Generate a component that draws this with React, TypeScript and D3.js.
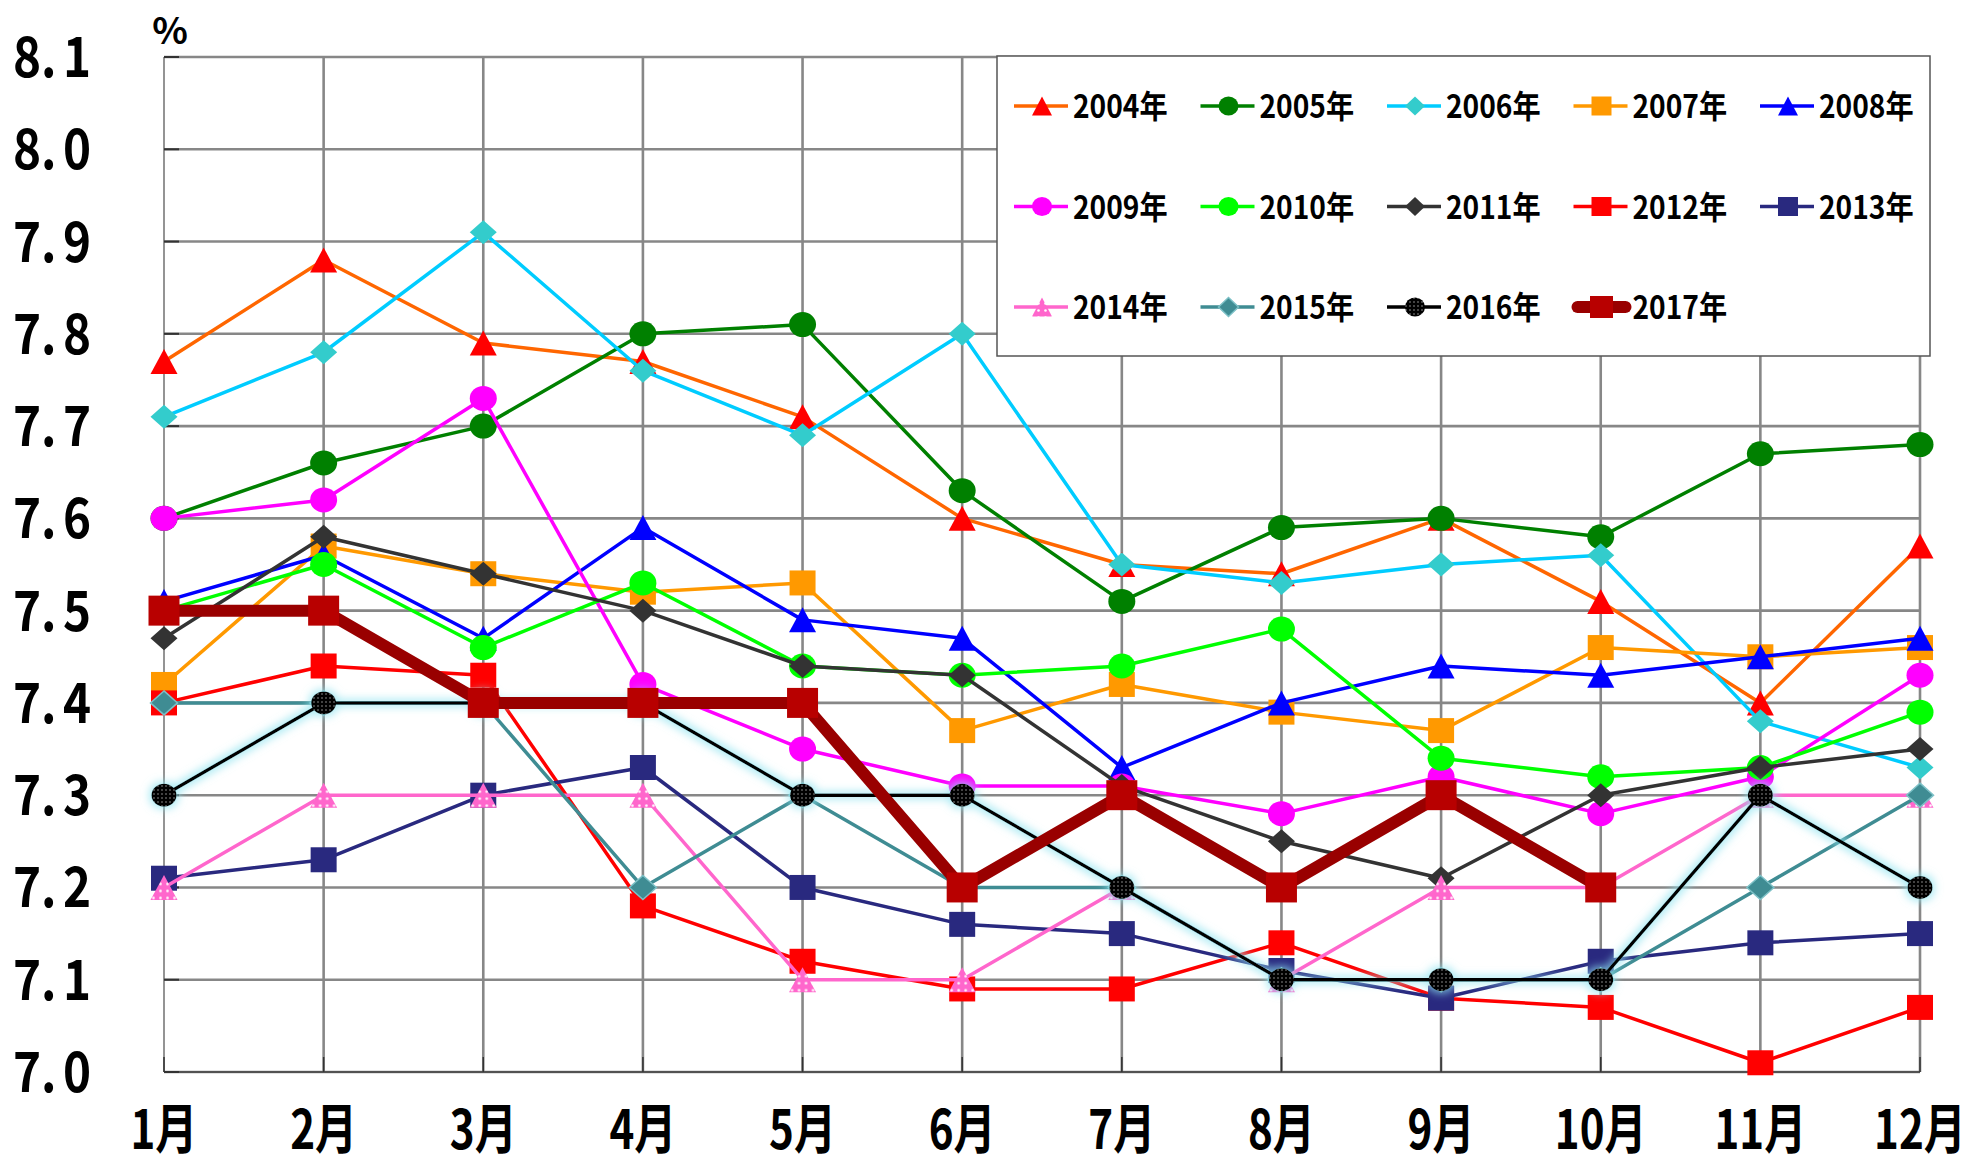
import React from 'react';
import * as d3 from 'd3';

const W = 1972, H = 1165;
const margin = { top: 57, right: 52, bottom: 93, left: 164 };

// months along the x axis and the y tick values
const months = ['1月', '2月', '3月', '4月', '5月', '6月', '7月', '8月', '9月', '10月', '11月', '12月'];
const yTicks = [7.0, 7.1, 7.2, 7.3, 7.4, 7.5, 7.6, 7.7, 7.8, 7.9, 8.0, 8.1];

// monthly values, one array per year (2017 ends at October)
const v2004 = [7.77, 7.88, 7.79, 7.77, 7.71, 7.60, 7.55, 7.54, 7.60, 7.51, 7.40, 7.57];
const v2005 = [7.60, 7.66, 7.70, 7.80, 7.81, 7.63, 7.51, 7.59, 7.60, 7.58, 7.67, 7.68];
const v2006 = [7.71, 7.78, 7.91, 7.76, 7.69, 7.80, 7.55, 7.53, 7.55, 7.56, 7.38, 7.33];
const v2007 = [7.42, 7.57, 7.54, 7.52, 7.53, 7.37, 7.42, 7.39, 7.37, 7.46, 7.45, 7.46];
const v2008 = [7.51, 7.56, 7.47, 7.59, 7.49, 7.47, 7.33, 7.40, 7.44, 7.43, 7.45, 7.47];
const v2009 = [7.60, 7.62, 7.73, 7.42, 7.35, 7.31, 7.31, 7.28, 7.32, 7.28, 7.32, 7.43];
const v2010 = [7.50, 7.55, 7.46, 7.53, 7.44, 7.43, 7.44, 7.48, 7.34, 7.32, 7.33, 7.39];
const v2011 = [7.47, 7.58, 7.54, 7.50, 7.44, 7.43, 7.31, 7.25, 7.21, 7.30, 7.33, 7.35];
const v2012 = [7.40, 7.44, 7.43, 7.18, 7.12, 7.09, 7.09, 7.14, 7.08, 7.07, 7.01, 7.07];
const v2013 = [7.21, 7.23, 7.30, 7.33, 7.20, 7.16, 7.15, 7.11, 7.08, 7.12, 7.14, 7.15];
const v2014 = [7.20, 7.30, 7.30, 7.30, 7.10, 7.10, 7.20, 7.10, 7.20, 7.20, 7.30, 7.30];
const v2015 = [7.40, 7.40, 7.40, 7.20, 7.30, 7.20, 7.20, 7.10, 7.10, 7.10, 7.20, 7.30];
const v2016 = [7.30, 7.40, 7.40, 7.40, 7.30, 7.30, 7.20, 7.10, 7.10, 7.10, 7.30, 7.20];
const v2017 = [7.50, 7.50, 7.40, 7.40, 7.40, 7.20, 7.30, 7.20, 7.30, 7.20];

const years = ['2004年', '2005年', '2006年', '2007年', '2008年', '2009年', '2010年',
    '2011年', '2012年', '2013年', '2014年', '2015年', '2016年', '2017年'];
const values = [v2004, v2005, v2006, v2007, v2008, v2009, v2010,
    v2011, v2012, v2013, v2014, v2015, v2016, v2017];

// look of each series, same order as years
const styles = [
    { line: '#FF6600', fill: '#FF0000', shape: 'triangle' },
    { line: '#008000', fill: '#008000', shape: 'circle' },
    { line: '#00CCFF', fill: '#33CCCC', shape: 'diamond' },
    { line: '#FF9900', fill: '#FF9900', shape: 'square' },
    { line: '#0000FF', fill: '#0000FF', shape: 'triangle' },
    { line: '#FF00FF', fill: '#FF00FF', shape: 'circle' },
    { line: '#00FF00', fill: '#00FF00', shape: 'circle' },
    { line: '#333333', fill: '#333333', shape: 'diamond' },
    { line: '#FF0000', fill: '#FF0000', shape: 'square' },
    { line: '#29297F', fill: '#29297F', shape: 'square' },
    { line: '#FF66CC', fill: 'url(#pinkDots)', shape: 'triangle' },
    { line: '#3F8C93', fill: '#3F8C93', shape: 'diamond', stroke: '#7CC0C6' },
    { line: '#000000', fill: 'url(#blackDots)', shape: 'circle', glow: true },
    { line: '#990000', fill: '#B80000', shape: 'square', width: 12 },
];

const FONT = '"Noto Sans CJK JP", "Noto Sans", sans-serif';

// marker outline centred on 0,0
function shapePath(shape: string, w: number, h: number) {
    const p = d3.path();
    if (shape === 'triangle') {
        p.moveTo(0, -h / 2); p.lineTo(w / 2, h / 2); p.lineTo(-w / 2, h / 2); p.closePath();
    } else if (shape === 'diamond') {
        p.moveTo(0, -h / 2); p.lineTo(w / 2, 0); p.lineTo(0, h / 2); p.lineTo(-w / 2, 0); p.closePath();
    } else {
        p.rect(-w / 2, -h / 2, w, h);
    }
    return p.toString();
}

function markerSize(s: any) {
    if (s.width) return [31, 30];
    if (s.shape === 'square') return [26, 25];
    if (s.shape === 'diamond') return [27, 24];
    if (s.fill === 'url(#blackDots)') return [25, 23];
    return [27, 25];
}

const Marker = ({ s, w, h, x, y }: any) => {
    if (s.shape === 'circle')
        return <ellipse cx={x} cy={y} rx={w / 2} ry={h / 2} fill={s.fill} />;
    return <path transform={`translate(${x},${y})`} d={shapePath(s.shape, w, h)} fill={s.fill}
        stroke={s.stroke || 'none'} strokeWidth={s.stroke ? 1.5 : 0} />;
};

export default function App() {
    const x = d3.scalePoint<string>().domain(months).range([margin.left, W - margin.right]);
    const y = d3.scaleLinear().domain([7.0, 8.1]).range([H - margin.bottom, margin.top]);
    const line = d3.line<number>().x((d, i) => x(months[i]) as number).y(d => y(d));

    const x0 = margin.left, x1 = W - margin.right;
    const y0 = H - margin.bottom, y1 = margin.top;

    // legend layout
    const legX = 997, legY = 56, legW = 933, legH = 300;
    const colStep = 186.5, rowStep = 100.5;

    return (
        <svg width={W} height={H} style={{ position: 'absolute', left: 0, top: 0, background: '#fff' }}>
            <defs>
                <pattern id="pinkDots" width="7" height="7" patternUnits="userSpaceOnUse">
                    <rect width="7" height="7" fill="#FF66CC" />
                    <circle cx="3.5" cy="3.5" r="1.3" fill="#fff" />
                </pattern>
                <pattern id="blackDots" width="4" height="4" patternUnits="userSpaceOnUse">
                    <rect width="4" height="4" fill="#000" />
                    <circle cx="2" cy="2" r="0.8" fill="#999" />
                </pattern>
                <filter id="glow" filterUnits="userSpaceOnUse" x="0" y="0" width={W} height={H}>
                    <feMorphology in="SourceAlpha" operator="dilate" radius="2" result="d" />
                    <feGaussianBlur in="d" stdDeviation="4" result="b" />
                    <feFlood floodColor="#8EE3EF" floodOpacity="0.75" />
                    <feComposite in2="b" operator="in" result="g" />
                    <feMerge><feMergeNode in="g" /><feMergeNode in="SourceGraphic" /></feMerge>
                </filter>
            </defs>
            <rect width={W} height={H} fill="#fff" />

            {/* grid */}
            {yTicks.map(t => (
                <line key={'h' + t} x1={x0} x2={x1} y1={y(t)} y2={y(t)} stroke="#878787" strokeWidth={2.6} />
            ))}
            {months.map((m, i) => i > 0 && (
                <line key={'v' + m} x1={x(m)} x2={x(m)} y1={y1} y2={y0} stroke="#878787" strokeWidth={2.6} />
            ))}
            {/* axes */}
            <line x1={x0} x2={x0} y1={y1} y2={y0} stroke="#707070" strokeWidth={1.5} />
            <line x1={x0} x2={x1} y1={y0} y2={y0} stroke="#404040" strokeWidth={1.5} />
            {yTicks.map(t => (
                <line key={'yt' + t} x1={x0} x2={x0 + 15} y1={y(t)} y2={y(t)} stroke="#333" strokeWidth={2} />
            ))}
            {months.map(m => (
                <line key={'xt' + m} x1={x(m)} x2={x(m)} y1={y0} y2={y0 - 15} stroke="#333" strokeWidth={1.5} />
            ))}

            {/* y labels: integer part with the point at the left, decimal digit right-aligned */}
            {yTicks.map(t => {
                const [a, b] = d3.format('.1f')(t).split('.');
                return (
                    <g key={'yl' + t} fontFamily={FONT} fontWeight={700} fontSize={56} fill="#000">
                        <text transform={`translate(13,${y(t) + 20}) scale(0.85,1)`}>{a}.</text>
                        <text transform={`translate(91,${y(t) + 20}) scale(0.85,1)`} textAnchor="end">{b}</text>
                    </g>
                );
            })}
            <text x={170} y={44} textAnchor="middle" fontFamily={FONT} fontWeight={700} fontSize={37}>%</text>

            {/* x labels */}
            {months.map(m => (
                <text key={'xl' + m} transform={`translate(${x(m)},1149) scale(0.78,1)`} textAnchor="middle"
                    fontFamily={FONT} fontWeight={700} fontSize={54}>{m}</text>
            ))}

            {/* series */}
            {values.map((vals, k) => {
                const s: any = styles[k];
                const [w, h] = markerSize(s);
                return (
                    <g key={years[k]} filter={s.glow ? 'url(#glow)' : undefined}>
                        <path d={line(vals) as string} fill="none" stroke={s.line}
                            strokeWidth={s.width || 3.5} strokeLinejoin="round" />
                        {vals.map((v, i) => (
                            <Marker key={i} s={s} w={w} h={h} x={x(months[i])} y={y(v)} />
                        ))}
                    </g>
                );
            })}

            {/* legend */}
            <rect x={legX} y={legY} width={legW} height={legH} fill="#fff" stroke="#555" strokeWidth={1.5} />
            {years.map((yr, k) => {
                const s: any = styles[k];
                const cx = 1042 + (k % 5) * colStep;
                const cy = 106 + Math.floor(k / 5) * rowStep;
                const big = !!s.width;
                return (
                    <g key={'lg' + yr}>
                        <line x1={cx - (big ? 24 : 28)} x2={cx + (big ? 24 : 26)} y1={cy} y2={cy} stroke={s.line}
                            strokeWidth={big ? 12 : 3.5} strokeLinecap={big ? 'round' : 'butt'} />
                        <Marker s={s} w={big ? 23 : 20} h={big ? 22 : 19} x={cx} y={cy} />
                        <text transform={`translate(${cx + 31},${cy + 12}) scale(0.88,1)`} fontFamily={FONT}
                            fontWeight={700} fontSize={32} fill="#000">{yr}</text>
                    </g>
                );
            })}
        </svg>
    );
}
